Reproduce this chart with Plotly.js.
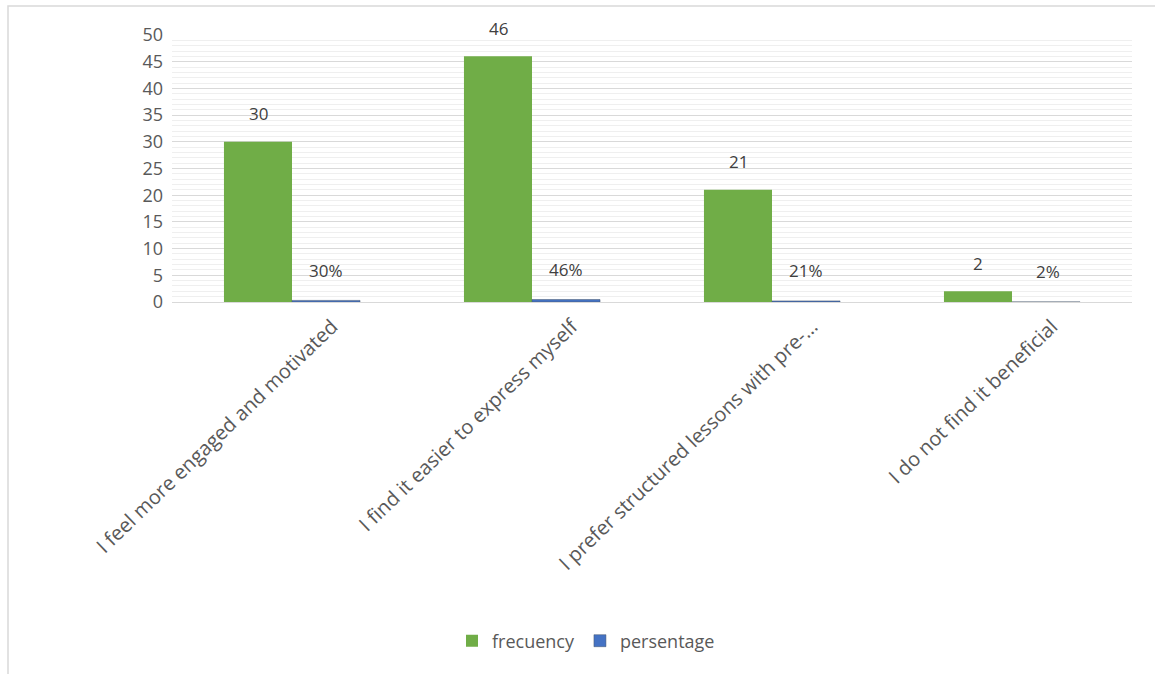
<!DOCTYPE html>
<html>
<head>
<meta charset="utf-8">
<script src="https://cdn.plot.ly/plotly-3.0.1.min.js"></script>
<style>html,body{margin:0;padding:0;background:#fff;}#chart{width:1155px;height:674px;}</style>
</head>
<body>
<div id="chart"></div>
<script>
const categories = [
  "I feel more engaged and motivated",
  "I find it easier to express myself",
  "I prefer structured lessons with pre-…",
  "I do not find it beneficial"
];
const frequency = [30, 46, 21, 2];
const percentage = [0.30, 0.46, 0.21, 0.02];
const pctLabels = ["30%", "46%", "21%", "2%"];
const seriesNames = ["frecuency", "persentage"];

const FONT = "Open Sans, Liberation Sans, sans-serif";
const GREY = "#595959";

const traces = [
  {type: "bar", name: seriesNames[0], x: categories, y: frequency,
   marker: {color: "#70ad47"}, hoverinfo: "y"},
  {type: "bar", name: seriesNames[1], x: categories, y: percentage,
   marker: {color: "#4472c4", line: {color: "#44546a", width: 0.5}}, hoverinfo: "y"}
];

const annotations = [];
categories.forEach((c, i) => {
  annotations.push({x: c, y: frequency[i], xref: "x", yref: "y", text: String(frequency[i]),
    showarrow: false, xshift: -34, yshift: 28, yanchor: "middle",
    font: {family: FONT, size: 17, color: "#404040"}});
  annotations.push({x: c, y: percentage[i], xref: "x", yref: "y", text: pctLabels[i],
    showarrow: false, xshift: i === 3 ? 36 : 34, yshift: 30, yanchor: "middle",
    font: {family: FONT, size: 17, color: "#404040"}});
});

const L = 172, R = 1132, T = 35, B = 302;
const px = v => (v - L) / (R - L);
const py = v => (B - v) / (B - T);

const layout = {
  width: 1155, height: 674,
  margin: {l: L, r: 1155 - R, t: T, b: 674 - B, pad: 0},
  paper_bgcolor: "#ffffff", plot_bgcolor: "#ffffff",
  barmode: "group", bargap: 0.433, bargroupgap: 0,
  font: {family: FONT, color: GREY, size: 16},
  showlegend: true,
  legend: {orientation: "h", x: px(586), xanchor: "center", y: py(641), yanchor: "middle",
    font: {family: FONT, size: 18, color: GREY}, traceorder: "normal"},
  xaxis: {type: "category", tickangle: -44, showgrid: false, showline: true,
    linecolor: "#d9d9d9", linewidth: 1, ticks: "", automargin: false,
    ticklabelshift: 40, ticklabelstandoff: 4,
    tickfont: {family: FONT, size: 20, color: GREY}},
  yaxis: {range: [0, 50], dtick: 5, tick0: 0, showgrid: true, gridcolor: "#d9d9d9", gridwidth: 1,
    zeroline: true, zerolinecolor: "#d9d9d9", showline: false, ticks: "", automargin: false,
    ticklabelstandoff: 8,
    minor: {dtick: 1, showgrid: true, gridcolor: "#efefef", gridwidth: 1},
    tickfont: {family: FONT, size: 18, color: GREY}},
  annotations: annotations,
  shapes: [{type: "rect", xref: "paper", yref: "paper",
    x0: px(8), x1: px(1160), y0: py(680), y1: py(6),
    line: {color: "#d9d9d9", width: 1.5}, fillcolor: "rgba(0,0,0,0)", layer: "below"}]
};

Plotly.newPlot("chart", traces, layout, {displayModeBar: false, staticPlot: true});
</script>
</body>
</html>
